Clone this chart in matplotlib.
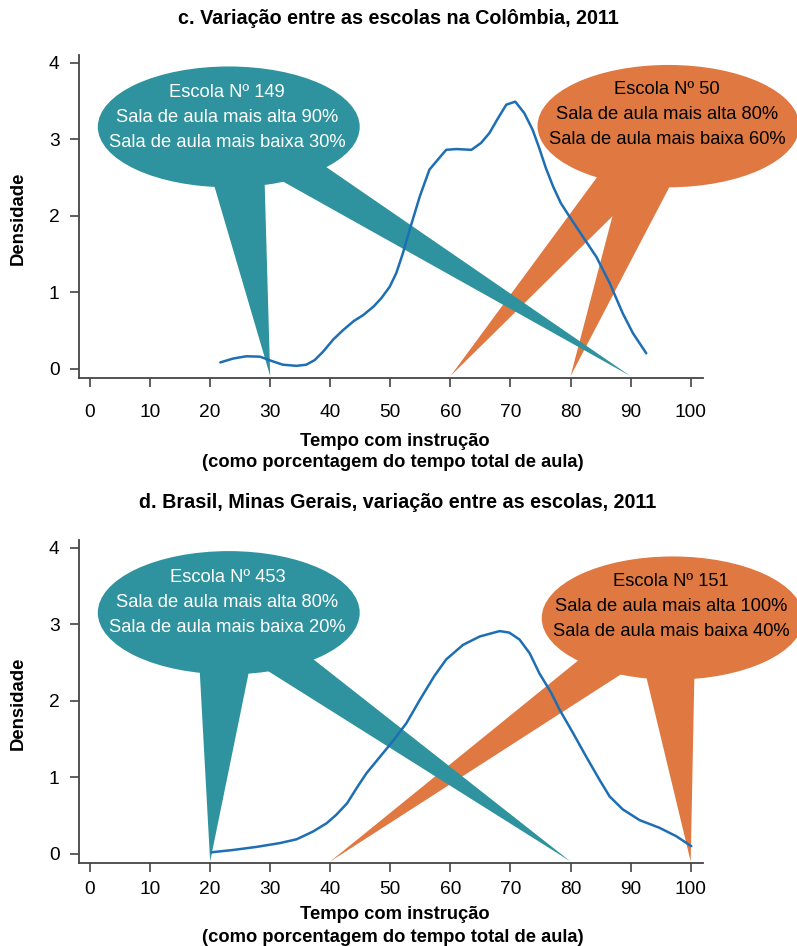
import matplotlib
matplotlib.use("Agg")
import matplotlib.pyplot as plt
from matplotlib.patches import Ellipse, Polygon

plt.rcParams['font.family'] = ['Liberation Sans', 'DejaVu Sans']

# ---------------- data ----------------
# Panel c: Colombia density curve
x_c = [21.7, 23.8, 26.0, 28.3, 30.2, 32.1, 34.4, 36.0, 37.4, 38.8, 40.5, 42.1,
       43.9, 45.5, 47.2, 48.5, 49.9, 51.0, 52.1, 53.2, 54.9, 56.5, 58.1, 59.3,
       61.0, 63.5, 65.1, 66.5, 67.9, 69.3, 70.8, 72.3, 73.7, 74.8, 75.9, 77.1,
       78.4, 79.8, 82.0, 84.3, 86.5, 88.7, 90.4, 92.6]
y_c = [0.08, 0.13, 0.16, 0.155, 0.10, 0.05, 0.035, 0.05, 0.11, 0.22, 0.38, 0.50,
       0.62, 0.70, 0.81, 0.92, 1.07, 1.25, 1.51, 1.81, 2.25, 2.60, 2.75, 2.86,
       2.87, 2.86, 2.95, 3.08, 3.27, 3.45, 3.49, 3.34, 3.12, 2.88, 2.62, 2.38,
       2.16, 1.99, 1.73, 1.46, 1.12, 0.72, 0.46, 0.20]
# Panel d: Minas Gerais density curve
x_d = [20.2, 23.8, 27.7, 31.6, 34.4, 37.1, 39.4, 41.0, 42.8, 44.4, 46.0, 48.3,
       50.4, 52.7, 54.9, 57.3, 59.3, 62.1, 64.9, 68.2, 69.8, 71.5, 73.2, 74.8,
       76.8, 78.2, 80.4, 82.6, 84.8, 86.5, 88.7, 91.5, 94.8, 97.6, 100.1]
y_d = [0.02, 0.05, 0.09, 0.14, 0.19, 0.29, 0.40, 0.51, 0.66, 0.86, 1.05, 1.27,
       1.47, 1.71, 2.01, 2.32, 2.54, 2.73, 2.84, 2.91, 2.89, 2.80, 2.62, 2.36,
       2.10, 1.88, 1.58, 1.27, 0.97, 0.75, 0.58, 0.44, 0.34, 0.23, 0.10]

# Schools: number, highest classroom, lowest classroom
schools_c = [("149", 90, 30), ("50", 80, 60)]
schools_d = [("453", 80, 20), ("151", 100, 40)]

x_ticks = [0, 10, 20, 30, 40, 50, 60, 70, 80, 90, 100]
y_ticks = [0, 1, 2, 3, 4]

titles = ["c. Variação entre as escolas na Colômbia, 2011",
          "d. Brasil, Minas Gerais, variação entre as escolas, 2011"]
xlabel1 = "Tempo com instrução"
xlabel2 = "(como porcentagem do tempo total de aula)"
ylabel = "Densidade"

# ---------------- style / layout ----------------
TEAL = "#2E939E"
ORANGE = "#DF7841"
BLUE = "#1E6EB4"
SPINE = "#444444"
TIP_Y = -0.1
ELL_W = 43.6

W, H = 797, 946
fig = plt.figure(figsize=(W / 100, H / 100), dpi=100)


def px_axes(left, top, right, bottom):
    return fig.add_axes([left / W, 1 - bottom / H, (right - left) / W, (bottom - top) / H])


layout_c = [
    dict(center=(23.1, 3.16), h=1.58, text=(22.8, 3.28),
         bases=[((20.8, 2.36), (29.1, 2.36)), ((32.7, 2.42), (39.6, 2.62))],
         color=TEAL, tcolor="white"),
    dict(center=(96.3, 3.17), h=1.60, text=(96.1, 3.32),
         bases=[((88.5, 2.45), (96.5, 2.38)), ((84.3, 2.49), (92.9, 2.45))],
         color=ORANGE, tcolor="black"),
]
layout_d = [
    dict(center=(23.1, 3.15), h=1.61, text=(22.9, 3.28),
         bases=[((18.3, 2.34), (26.3, 2.32)), ((30.2, 2.36), (37.7, 2.51))],
         color=TEAL, tcolor="white"),
    dict(center=(97.0, 3.08), h=1.61, text=(96.7, 3.23),
         bases=[((92.8, 2.25), (100.6, 2.27)), ((80.7, 2.49), (87.9, 2.32))],
         color=ORANGE, tcolor="black"),
]


def callout(ax, school, lay, z):
    num, hi, lo = school
    if lay["color"] == TEAL:
        tips = [lo, hi]
    else:
        tips = [hi, lo]
    for (b1, b2), tx in zip(lay["bases"], tips):
        pts = []
        for bx, by in (b1, b2):
            pts.append((tx + (bx - tx) * 1.08, TIP_Y + (by - TIP_Y) * 1.08))
        poly = Polygon([pts[0], (tx, TIP_Y), pts[1]], closed=True,
                       facecolor=lay["color"], edgecolor="none", zorder=z, clip_on=False)
        ax.add_patch(poly)
    ell = Ellipse(lay["center"], ELL_W, lay["h"], facecolor=lay["color"],
                  edgecolor="none", zorder=z, clip_on=False)
    ax.add_patch(ell)
    txt = f"Escola Nº {num}\nSala de aula mais alta {hi}%\nSala de aula mais baixa {lo}%"
    ax.text(lay["text"][0], lay["text"][1], txt, ha="center", va="center",
            color=lay["tcolor"], fontsize=13.2, linespacing=1.62, zorder=z + 5,
            clip_on=False)


def panel(ax, xs, ys, schools, layouts, pad):
    ax.set_xlim(-1.83, 102)
    ax.set_ylim(-0.12, 4.10)
    for s in ["top", "right"]:
        ax.spines[s].set_visible(False)
    for s in ["left", "bottom"]:
        ax.spines[s].set_color(SPINE)
        ax.spines[s].set_linewidth(1.3)
    ax.set_xticks(x_ticks)
    ax.set_yticks(y_ticks)
    ax.tick_params(axis="both", direction="out", length=6.5, width=1.2, color=SPINE,
                   labelsize=13.8, labelcolor="black")
    ax.tick_params(axis="x", pad=pad)
    ax.tick_params(axis="y", pad=7.5)
    callout(ax, schools[1], layouts[1], 2)
    callout(ax, schools[0], layouts[0], 3)
    ax.plot(xs, ys, color=BLUE, lw=1.8, zorder=10, solid_capstyle="round",
            solid_joinstyle="round")


ax1 = px_axes(79, 55, 702.7, 377.7)
panel(ax1, x_c, y_c, schools_c, layout_c, pad=12.3)
ax2 = px_axes(79, 540, 702.7, 863)
panel(ax2, x_d, y_d, schools_d, layout_d, pad=6.5)

fig.text(398 / W, 1 - 18 / H, titles[0], ha="center", va="center", fontsize=14.2, fontweight="bold")
fig.text(398 / W, 1 - 503 / H, titles[1], ha="center", va="center", fontsize=14.2, fontweight="bold")
for y1, y2 in [(441, 462), (914, 937)]:
    fig.text(395 / W, 1 - y1 / H, xlabel1, ha="center", va="center", fontsize=13.2, fontweight="bold")
    fig.text(393 / W, 1 - y2 / H, xlabel2, ha="center", va="center", fontsize=13.2, fontweight="bold")
fig.text(18 / W, 1 - 218 / H, ylabel, ha="center", va="center", rotation=90, fontsize=13.3, fontweight="bold")
fig.text(18 / W, 1 - 703 / H, ylabel, ha="center", va="center", rotation=90, fontsize=13.3, fontweight="bold")

fig.savefig("out.png", dpi=100)
